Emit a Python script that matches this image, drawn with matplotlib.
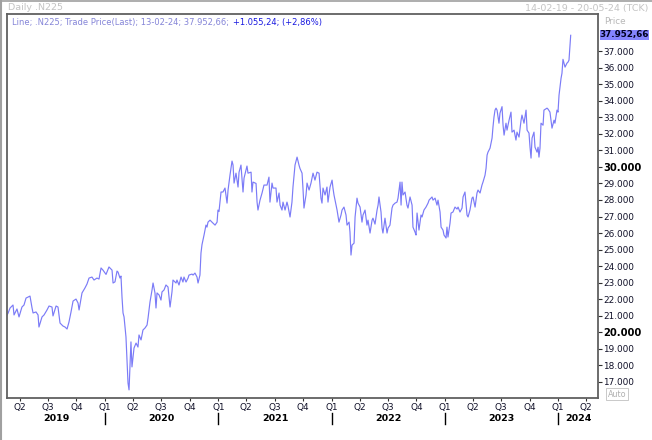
import matplotlib
matplotlib.use("Agg")
import matplotlib.pyplot as plt
from matplotlib.lines import Line2D
from matplotlib.patches import Rectangle
from matplotlib.ticker import FixedLocator, FuncFormatter

# Nikkei 225 (.N225), daily closes, time in decimal years
t_year = [
    2019.120, 2019.144, 2019.162, 2019.188, 2019.197, 2019.223, 2019.241, 2019.267, 2019.285, 2019.303,
    2019.338, 2019.356, 2019.365, 2019.391, 2019.409, 2019.417, 2019.444, 2019.462, 2019.488, 2019.506,
    2019.532, 2019.541, 2019.568, 2019.585, 2019.603, 2019.629, 2019.647, 2019.665, 2019.682, 2019.700,
    2019.718, 2019.744, 2019.762, 2019.771, 2019.797, 2019.823, 2019.841, 2019.859, 2019.885, 2019.903,
    2019.929, 2019.947, 2019.965, 2019.982, 2020.009, 2020.035, 2020.062, 2020.071, 2020.088, 2020.106,
    2020.115, 2020.132, 2020.141, 2020.150, 2020.159, 2020.168, 2020.185, 2020.194, 2020.203, 2020.212,
    2020.229, 2020.238, 2020.256, 2020.274, 2020.291, 2020.300, 2020.318, 2020.335, 2020.353, 2020.371,
    2020.380, 2020.397, 2020.415, 2020.424, 2020.441, 2020.450, 2020.459, 2020.477, 2020.494, 2020.503,
    2020.521, 2020.538, 2020.556, 2020.574, 2020.591, 2020.600, 2020.627, 2020.635, 2020.653, 2020.671,
    2020.688, 2020.697, 2020.715, 2020.733, 2020.741, 2020.768, 2020.777, 2020.794, 2020.812, 2020.821,
    2020.838, 2020.847, 2020.856, 2020.874, 2020.891, 2020.900, 2020.909, 2020.927, 2020.944, 2020.971,
    2020.989, 2020.997, 2021.006, 2021.024, 2021.041, 2021.059, 2021.077, 2021.086, 2021.103, 2021.121,
    2021.130, 2021.139, 2021.156, 2021.174, 2021.183, 2021.200, 2021.218, 2021.227, 2021.253, 2021.262,
    2021.289, 2021.297, 2021.306, 2021.333, 2021.342, 2021.350, 2021.368, 2021.386, 2021.403, 2021.430,
    2021.447, 2021.456, 2021.474, 2021.483, 2021.509, 2021.518, 2021.536, 2021.545, 2021.562, 2021.571,
    2021.589, 2021.606, 2021.615, 2021.633, 2021.650, 2021.659, 2021.677, 2021.695, 2021.712, 2021.721,
    2021.739, 2021.748, 2021.756, 2021.774, 2021.783, 2021.801, 2021.818, 2021.836, 2021.853, 2021.871,
    2021.889, 2021.906, 2021.915, 2021.924, 2021.942, 2021.959, 2021.968, 2021.986, 2022.004, 2022.012,
    2022.021, 2022.039, 2022.048, 2022.065, 2022.083, 2022.092, 2022.109, 2022.127, 2022.136, 2022.154,
    2022.162, 2022.171, 2022.180, 2022.198, 2022.207, 2022.224, 2022.233, 2022.251, 2022.268, 2022.277,
    2022.295, 2022.312, 2022.321, 2022.339, 2022.357, 2022.365, 2022.383, 2022.401, 2022.410, 2022.418,
    2022.436, 2022.445, 2022.453, 2022.471, 2022.489, 2022.498, 2022.515, 2022.533, 2022.542, 2022.560,
    2022.577, 2022.586, 2022.604, 2022.613, 2022.621, 2022.630, 2022.648, 2022.665, 2022.674, 2022.692,
    2022.710, 2022.718, 2022.736, 2022.745, 2022.754, 2022.771, 2022.789, 2022.798, 2022.815, 2022.833,
    2022.851, 2022.860, 2022.886, 2022.895, 2022.913, 2022.930, 2022.939, 2022.957, 2022.966, 2022.983,
    2022.992, 2023.010, 2023.018, 2023.027, 2023.045, 2023.054, 2023.071, 2023.089, 2023.107, 2023.116,
    2023.133, 2023.151, 2023.160, 2023.177, 2023.195, 2023.204, 2023.221, 2023.239, 2023.248, 2023.266,
    2023.283, 2023.292, 2023.310, 2023.327, 2023.336, 2023.354, 2023.363, 2023.372, 2023.380, 2023.398,
    2023.416, 2023.424, 2023.433, 2023.442, 2023.451, 2023.460, 2023.477, 2023.486, 2023.504, 2023.513,
    2023.522, 2023.539, 2023.548, 2023.566, 2023.583, 2023.592, 2023.610, 2023.627, 2023.636, 2023.654,
    2023.672, 2023.680, 2023.698, 2023.716, 2023.725, 2023.742, 2023.751, 2023.760, 2023.769, 2023.786,
    2023.795, 2023.813, 2023.822, 2023.830, 2023.839, 2023.848, 2023.866, 2023.874, 2023.901, 2023.910,
    2023.927, 2023.936, 2023.945, 2023.963, 2023.971, 2023.989, 2023.998, 2024.007, 2024.025, 2024.033,
    2024.042, 2024.060, 2024.077, 2024.086, 2024.095, 2024.110,
]
close = [
    20870, 21150, 21470, 21650, 21050, 21410, 20930, 21530, 21650, 22070,
    22190, 21470, 21170, 21230, 21050, 20320, 20930, 21050, 21350, 21590,
    21530, 20990, 21590, 21530, 20560, 20380, 20320, 20200, 20620, 21230,
    21890, 22010, 21770, 21350, 22380, 22680, 22920, 23280, 23340, 23160,
    23280, 23220, 23890, 23760, 23500, 23950, 23760, 22980, 23050, 23700,
    23640, 23280, 23400, 22130, 21170, 20930, 19720, 18330, 16940, 16520,
    19420, 17910, 19050, 19350, 19110, 19840, 19540, 20140, 20260, 20440,
    20870, 21830, 22560, 22980, 22380, 21470, 22380, 22260, 21950, 22440,
    22560, 22860, 22740, 21530, 22440, 23160, 22980, 23160, 22860, 23340,
    23040, 23340, 23040, 23280, 23460, 23520, 23460, 23580, 23340, 22980,
    23460, 24790, 25300, 25880, 26480, 26360, 26660, 26780, 26660, 26480,
    26660, 27390, 27300, 28480, 28480, 28720, 27810, 28600, 29500, 30350,
    30110, 29020, 29620, 28780, 29680, 30110, 28480, 29320, 30050, 29620,
    29680, 28480, 29080, 29000, 27870, 27390, 27990, 28420, 28900, 28900,
    29380, 27870, 29020, 28720, 28720, 27870, 28420, 27690, 27390, 27870,
    27390, 27870, 27630, 26970, 27870, 28780, 30110, 30590, 30110, 29900,
    29620, 28600, 27510, 28300, 29020, 28600, 29020, 29620, 29200, 29680,
    29620, 28110, 27810, 28720, 28300, 28780, 27870, 28780, 29200, 28720,
    28300, 27690, 27390, 26660, 27090, 27390, 27570, 27090, 26480, 26660,
    26060, 24670, 25270, 25390, 26970, 28110, 27810, 27570, 26660, 27090,
    27390, 26480, 26780, 26000, 26780, 26900, 26540, 27390, 27690, 28180,
    27270, 26300, 26000, 26900, 26000, 26300, 26480, 27510, 27690, 27810,
    27870, 28110, 29080, 27690, 29080, 28300, 28480, 27690, 27510, 28180,
    27690, 26360, 26060, 25880, 27210, 26180, 27090, 26970, 27390, 27570,
    27810, 27990, 28180, 27990, 28110, 27690, 27990, 27270, 26360, 26180,
    25880, 25700, 26360, 25760, 26600, 27210, 27270, 27570, 27450, 27570,
    27270, 27510, 28180, 28480, 27090, 26970, 27390, 28110, 28180, 27570,
    28420, 28600, 28420, 28900, 29080, 29500, 29920, 30710, 30890, 31130,
    31740, 32400, 33010, 33430, 33550, 33430, 32640, 33250, 33640, 32520,
    31920, 32640, 32220, 32820, 33310, 32100, 32220, 31620, 32100, 31800,
    32820, 33130, 32640, 33430, 32220, 32040, 31190, 30530, 31740, 32100,
    31190, 30890, 31190, 30590, 31130, 32640, 32520, 33430, 33550, 33490,
    33310, 32820, 32340, 32820, 32640, 33430, 33310, 34330, 35360, 35660,
    36500, 36030, 36270, 36330, 36450, 37952.66,
]

years = [2019, 2020, 2021, 2022, 2023, 2024]
quarter_frac = [0.0, 0.247, 0.496, 0.748]
quarter_names = ["Q1", "Q2", "Q3", "Q4"]
price_ticks = list(range(17000, 38000, 1000))
bold_ticks = [20000, 30000]

legend_main = "Line; .N225; Trade Price(Last); 13-02-24; 37.952,66;"
legend_change = "+1.055,24; (+2,86%)"
last_label = "37.952,66"

W, H = 652, 440
x_min, x_max = 2019.135, 2024.351
y_min, y_max = 16030, 39240

fig = plt.figure(figsize=(W / 100, H / 100), dpi=100)
fig.patch.set_facecolor("white")

# axes box in pixels: left 7, right 598, top 14, bottom 398
ax = fig.add_axes([7 / W, 1 - 398 / H, (598 - 7) / W, (398 - 14) / H])
ax.plot(t_year, close, color="#7b7bf7", lw=0.85)
ax.set_xlim(x_min, x_max)
ax.set_ylim(y_min, y_max)

for side in ["left", "right", "top", "bottom"]:
    ax.spines[side].set_color("#606060")
    ax.spines[side].set_linewidth(1.3)

# price axis on the right
ax.yaxis.tick_right()
ax.yaxis.set_major_locator(FixedLocator(price_ticks))
ax.yaxis.set_major_formatter(FuncFormatter(lambda v, p: "{:,.0f}".format(v).replace(",", ".")))
ax.tick_params(axis="y", direction="out", length=3, width=0.8, color="#303030",
               pad=1, labelsize=6.4, labelcolor="#101028")
for lab, v in zip(ax.get_yticklabels(), price_ticks):
    if v in bold_ticks:
        lab.set_fontweight("bold")
        lab.set_fontsize(7.2)
        lab.set_color("black")

# quarter ticks on the bottom
q_pos, q_lab = [], []
for yr in years:
    for f, n in zip(quarter_frac, quarter_names):
        if x_min <= yr + f <= x_max:
            q_pos.append(yr + f)
            q_lab.append(n)
ax.set_xticks(q_pos)
ax.set_xticklabels(q_lab)
ax.tick_params(axis="x", direction="out", length=2, width=0.8, color="#303030",
               pad=1.5, labelsize=6.4, labelcolor="#101028")

# year labels, centred on the visible part of each year, plus separators
tr = ax.get_xaxis_transform()
for yr in years:
    a = max(yr, x_min)
    b = min(yr + 1, x_max)
    ax.text((a + b) / 2, -20 / (398 - 14), str(yr), transform=tr, ha="center", va="center",
            fontsize=6.8, fontweight="bold", color="black")
    if x_min < yr < x_max:
        ax.add_line(Line2D([yr, yr], [-15 / 384, -26 / 384], transform=tr, color="black",
                           lw=1.0, clip_on=False))

# header texts
fig.text(8 / W, 1 - 8 / H, "Daily .N225", fontsize=6.8, color="#c4c4c4", va="center")
fig.text(648 / W, 1 - 8 / H, "14-02-19 - 20-05-24 (TCK)", fontsize=6.8, color="#c4c4c4",
         va="center", ha="right")
t1 = fig.text(12 / W, 1 - 22 / H, legend_main, fontsize=6.0, color="#8585d8", va="center")
fig.canvas.draw()
bb = t1.get_window_extent()
fig.text((bb.x1 + 4) / W, 1 - 22 / H, legend_change, fontsize=6.0, color="#1818e0", va="center")
fig.text(604 / W, 1 - 21 / H, "Price", fontsize=6.4, color="#b8b8b8", va="center")

# last price tag
fig.add_artist(Rectangle((600 / W, 1 - 40 / H), 49 / W, 10 / H, transform=fig.transFigure,
                         facecolor="#8484ff", edgecolor="none"))
fig.text(624.5 / W, 1 - 35 / H, last_label, fontsize=6.3, fontweight="bold", color="#000020",
         va="center", ha="center")

# auto box
fig.text(617 / W, 1 - 394 / H, "Auto", fontsize=5.8, color="#b0b0b0", ha="center", va="center",
         bbox=dict(boxstyle="square,pad=0.15", facecolor="white", edgecolor="#c0c0c0", lw=0.6))

# outer window border
fig.add_artist(Line2D([0.5 / W, 0.5 / W], [0, 1], transform=fig.transFigure, color="#a0a0a0", lw=1.5))
fig.add_artist(Line2D([0, 1], [1 - 1 / H, 1 - 1 / H], transform=fig.transFigure, color="#a0a0a0", lw=1.2))

fig.savefig("out.png", dpi=100)
